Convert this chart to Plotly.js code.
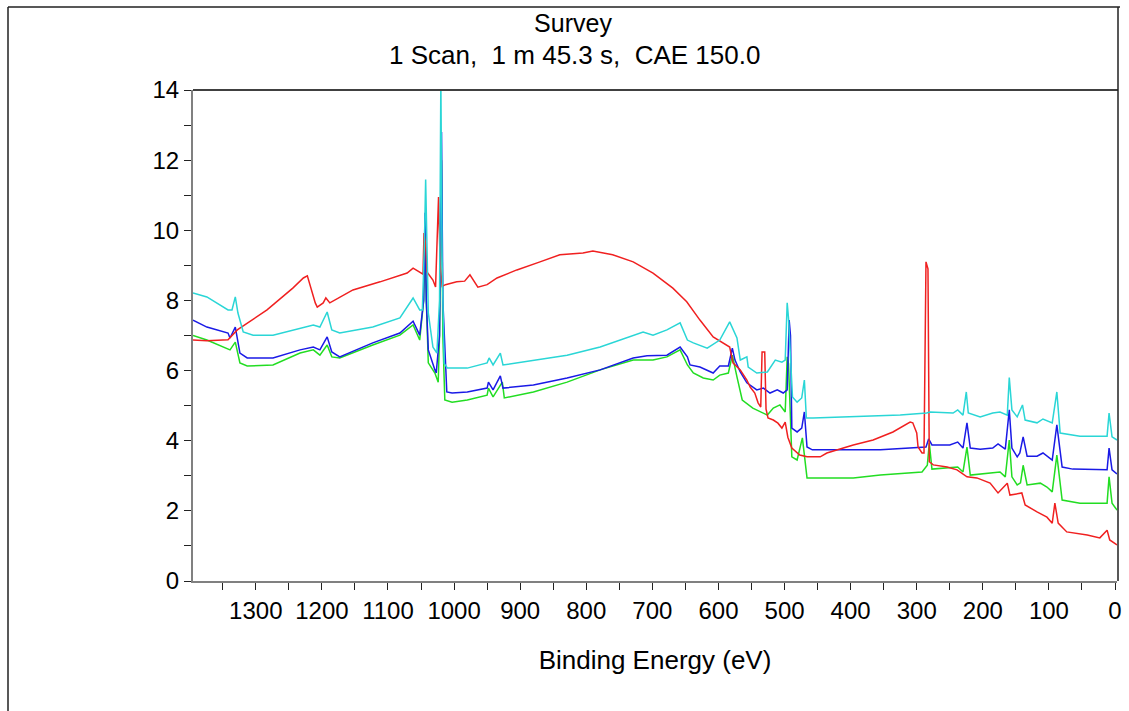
<!DOCTYPE html>
<html>
<head>
<meta charset="utf-8">
<script src="https://cdn.plot.ly/plotly-3.0.1.min.js"></script>
<style>html,body{margin:0;padding:0;background:#fff;}#chart{width:1129px;height:711px;}</style>
</head>
<body>
<div id="chart"></div>
<script>
// Binding energy (eV) and intensity for each spectrum
const redBE = [1395,1374,1342,1328,1283,1244,1228,1222,1210,1207,1198,1194,1188,1153,1112,1071,1062,1051,1047,1045.5,1043,1041,1032,1028,1025,1023.5,1021,1018,1013,996,984,976,964,950,935,905,870,840,805,790,760,729,699,669,648,628,608,593,583,578,567,557,552,545,540,536,534,530,528,525,517,510,504,499,495,489,477,466,446,436,421,396,366,336,310,306,300,298,292,289,286,283,281,275,254,239,224,209,189,177,163,159,141,136,118,103,95,91,86,73,42,23,12,8,-3];
const redI  = [6.87,6.85,6.88,7.16,7.73,8.35,8.64,8.70,7.93,7.81,7.93,8.07,7.93,8.30,8.53,8.78,8.92,8.78,8.75,9.92,9.60,8.81,8.58,8.38,10.0,10.95,9.0,8.40,8.45,8.53,8.55,8.73,8.38,8.45,8.64,8.87,9.10,9.30,9.35,9.41,9.30,9.10,8.78,8.35,7.96,7.44,6.96,6.79,6.67,6.22,6.02,5.73,5.53,5.36,5.08,4.96,6.53,6.53,4.90,4.65,4.59,4.50,4.36,4.53,4.10,3.79,3.59,3.54,3.54,3.65,3.74,3.88,4.02,4.25,4.53,4.51,4.22,3.82,3.65,3.65,9.10,8.90,3.40,3.31,3.25,3.17,2.97,2.94,2.79,2.51,2.79,2.45,2.51,2.17,1.97,1.82,1.65,2.22,1.65,1.40,1.31,1.23,1.45,1.17,1.03];

const cyanBE = [1395,1374,1342,1336,1331,1327,1319,1304,1274,1244,1213,1203,1192,1185,1173,1123,1082,1062,1052,1048,1045,1043,1041,1039,1032,1026,1022,1020,1018,1015,1010,991,980,950,947,941,930,926,880,829,779,729,714,699,678,658,647,638,617,598,583,572,567,557,555,542,526,514,504,499,496,494,488,481,474,470,467,457,366,325,285,280,245,238,230,225,222,204,185,174,163,160,156,148,140,136,118,109,95,88,83,53,12,9,4.5,-3];
const cyanI  = [8.21,8.10,7.73,7.73,8.10,7.64,7.10,7.01,7.01,7.16,7.30,7.24,7.67,7.16,7.07,7.24,7.50,8.07,7.73,7.73,9.5,11.45,9.0,7.64,6.67,6.50,8.0,14.3,9.0,6.20,6.07,6.07,6.07,6.22,6.36,6.16,6.50,6.16,6.30,6.44,6.67,7.01,7.10,7.01,7.16,7.36,6.87,6.79,6.64,6.87,7.39,6.93,6.30,6.39,6.10,5.93,5.96,6.30,6.24,6.30,7.93,7.50,5.25,5.10,5.22,5.73,4.65,4.65,4.70,4.73,4.79,4.82,4.79,4.88,4.73,5.39,4.79,4.68,4.79,4.82,4.73,5.80,4.88,4.68,5.02,4.59,4.51,4.62,4.51,5.39,4.22,4.13,4.13,4.79,4.11,4.02];

const blueBE = [1395,1374,1342,1339,1331,1324,1313,1274,1233,1213,1203,1192,1185,1173,1123,1082,1062,1052,1046,1044,1042,1039,1029,1027,1022,1019,1017,1011,1003,980,950,948,941,930,926,880,829,779,729,708,678,658,647,643,628,608,598,585,579,575,567,557,542,532,522,511,502,496,493,491,489,481,474,470,466,458,355,295,286,282,277,250,238,230,224,219,204,185,177,166,160,156,148,144,139,133,118,109,95,88,80,64,33,12,9,4.5,-3];
const blueI  = [7.44,7.24,7.07,6.93,7.24,6.50,6.36,6.36,6.59,6.67,6.59,6.96,6.53,6.39,6.79,7.07,7.41,7.01,8.0,10.5,8.0,6.59,6.02,5.93,7.0,12.8,8.0,5.39,5.36,5.39,5.50,5.67,5.45,5.85,5.50,5.59,5.79,6.02,6.36,6.42,6.44,6.67,6.39,6.16,6.10,5.93,6.13,6.13,6.64,6.30,5.96,5.65,5.45,5.50,5.36,5.45,5.36,5.45,7.44,7.0,4.36,4.25,4.36,4.82,3.82,3.74,3.74,3.82,3.82,4.05,3.88,3.88,3.96,3.79,4.51,3.79,3.76,3.79,3.91,3.76,4.88,3.79,3.54,3.65,4.11,3.56,3.56,3.65,3.45,4.45,3.25,3.19,3.19,3.17,3.79,3.17,3.05];

const greenBE = [1395,1374,1339,1331,1324,1313,1274,1233,1213,1203,1192,1185,1173,1123,1082,1062,1052,1046,1044,1042,1039,1029,1024,1022,1019,1017,1014,1003,980,950,948,941,927,924,880,829,779,729,699,678,658,647,638,623,608,598,585,579,572,564,548,526,517,507,499,496,494,489,481,473,466,457,396,355,292,284,281,277,250,238,230,224,219,185,174,166,160,156,148,143,139,133,113,103,95,88,80,53,12,9,4.5,-3];
const greenI  = [7.00,6.87,6.59,6.81,6.22,6.13,6.16,6.50,6.59,6.44,6.73,6.39,6.36,6.73,7.01,7.30,6.87,8.0,9.92,8.0,6.22,5.93,5.67,7.0,12.0,7.0,5.16,5.10,5.16,5.30,5.50,5.25,5.67,5.22,5.39,5.67,6.02,6.30,6.30,6.39,6.59,6.16,5.93,5.79,5.73,5.87,5.93,6.44,5.82,5.16,4.93,4.73,4.93,5.02,4.82,6.39,6.20,3.54,3.45,4.08,2.94,2.94,2.94,3.02,3.11,3.30,3.93,3.19,3.22,3.25,3.11,3.82,3.02,3.08,3.11,2.97,4.02,2.97,2.74,2.80,3.30,2.74,2.79,2.68,2.54,3.59,2.31,2.22,2.22,2.97,2.22,2.02];

const xTicks = [1300,1200,1100,1000,900,800,700,600,500,400,300,200,100,0];
const yTicks = [0,2,4,6,8,10,12,14];

const FONT = 'Liberation Sans, Arial, sans-serif';

function trace(x, y, color) {
  return {x: x, y: y, type: 'scatter', mode: 'lines',
          line: {color: color, width: 1.5}, hoverinfo: 'skip', showlegend: false};
}

const data = [
  trace(greenBE, greenI, '#22dd22'),
  trace(blueBE, blueI, '#1a1ae6'),
  trace(redBE, redI, '#f02020'),
  trace(cyanBE, cyanI, '#2ad6d6')
];

const layout = {
  width: 1129, height: 711,
  margin: {l: 193, r: 12, t: 90, b: 130},
  paper_bgcolor: '#ffffff', plot_bgcolor: '#ffffff',
  font: {family: FONT, size: 24, color: '#000'},
  showlegend: false,
  title: {text: 'Survey', font: {family: FONT, size: 25, color: '#000'},
          x: 573/1129, xanchor: 'center', xref: 'container',
          y: 1 - 23/711, yanchor: 'middle', yref: 'container'},
  annotations: [{
    text: '1 Scan,\u00a0\u00a01 m 45.3 s,\u00a0\u00a0CAE 150.0',
    xref: 'paper', yref: 'paper', x: (574-193)/924, y: (581-55)/491,
    xanchor: 'center', yanchor: 'middle', showarrow: false,
    font: {family: FONT, size: 26, color: '#000'}
  }],
  xaxis: {
    range: [1395, -3], autorange: false,
    tickmode: 'array', tickvals: xTicks, ticktext: xTicks.map(String),
    ticks: 'outside', ticklen: 7, tickwidth: 1, tickcolor: '#222',
    minor: {tick0: 0, dtick: 50, ticks: 'outside', ticklen: 7, tickwidth: 1, tickcolor: '#222', showgrid: false},
    showline: true, linecolor: '#808080', linewidth: 2,
    showgrid: false, zeroline: false,
    tickfont: {family: FONT, size: 24, color: '#000'},
    title: {text: 'Binding Energy (eV)', standoff: 28, font: {family: FONT, size: 26, color: '#000'}}
  },
  yaxis: {
    range: [0, 14], autorange: false,
    tickmode: 'array', tickvals: yTicks, ticktext: yTicks.map(String),
    ticks: 'outside', ticklen: 7, tickwidth: 1, tickcolor: '#222',
    minor: {tick0: 0, dtick: 1, ticks: 'outside', ticklen: 7, tickwidth: 1, tickcolor: '#222', showgrid: false},
    showline: true, linecolor: '#808080', linewidth: 2,
    showgrid: false, zeroline: false,
    tickfont: {family: FONT, size: 24, color: '#000'}
  },
  shapes: [
    {type: 'line', xref: 'paper', yref: 'paper', x0: 0, x1: (1118-193)/924, y0: 1, y1: 1, line: {color: '#404040', width: 2}},
    {type: 'line', xref: 'paper', yref: 'paper', x0: (1118-193)/924, x1: (1118-193)/924, y0: (581-7)/491, y1: 0, line: {color: '#202020', width: 1.5}},
    {type: 'line', xref: 'paper', yref: 'paper', x0: (8-193)/924, x1: (1120-193)/924, y0: (581-7)/491, y1: (581-7)/491, line: {color: '#202020', width: 1.5}},
    {type: 'line', xref: 'paper', yref: 'paper', x0: (8-193)/924, x1: (8-193)/924, y0: (581-7)/491, y1: (581-712)/491, line: {color: '#202020', width: 1.5}}
  ]
};

Plotly.newPlot('chart', data, layout, {staticPlot: true, displayModeBar: false});
</script>
</body>
</html>
